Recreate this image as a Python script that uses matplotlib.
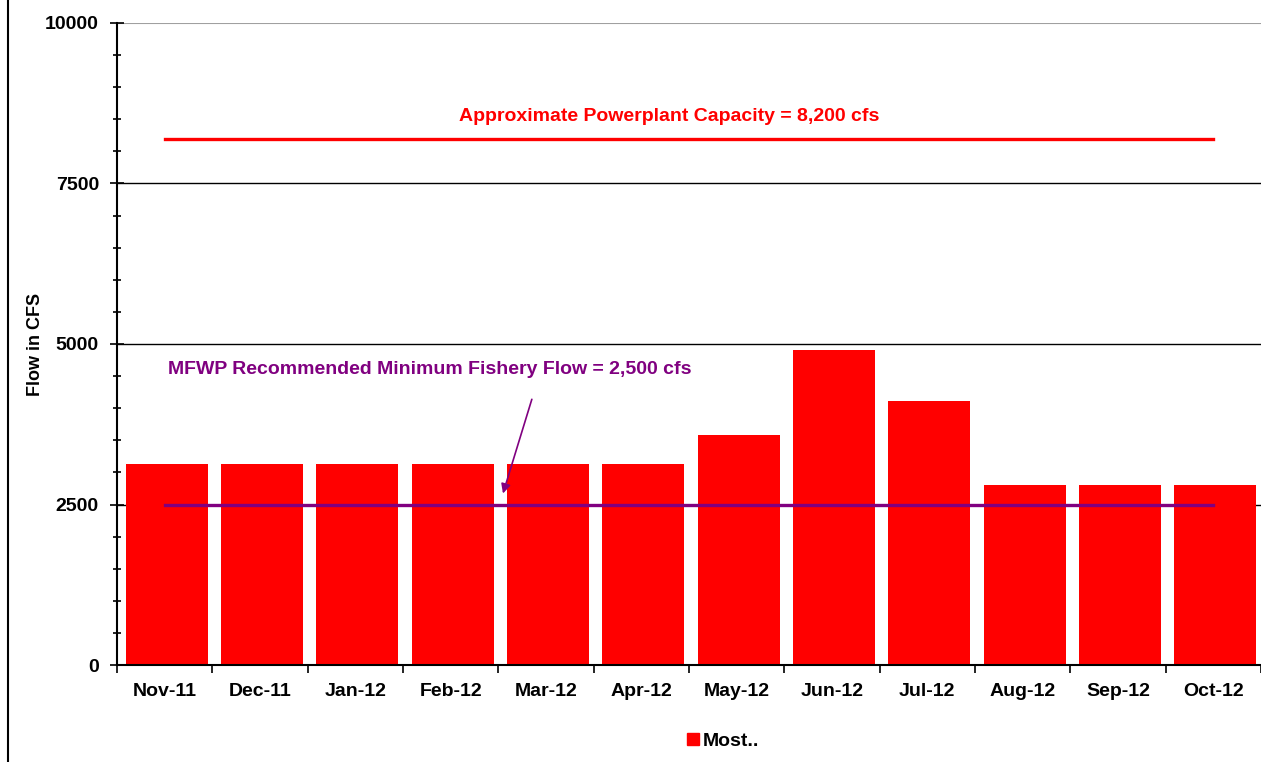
import matplotlib.pyplot as plt
from matplotlib.ticker import MultipleLocator
from matplotlib.lines import Line2D
import numpy as np

plt.rcParams['font.family'] = ['Liberation Sans', 'DejaVu Sans']
plt.rcParams['font.weight'] = 'bold'

months = ['Nov-11', 'Dec-11', 'Jan-12', 'Feb-12', 'Mar-12', 'Apr-12',
          'May-12', 'Jun-12', 'Jul-12', 'Aug-12', 'Sep-12', 'Oct-12']
flow = [3130, 3130, 3130, 3130, 3130, 3130, 3580, 4900, 4110, 2800, 2800, 2800]
capacity = 8200
min_flow = 2500

fig = plt.figure(figsize=(12.61, 7.62), dpi=100)
ax = fig.add_axes([117/1261, 1 - 665/762, 1144/1261, 642/762])

x = np.arange(len(months))
ax.bar(x + 0.02, flow, width=0.86, color='#ff0000', label='Most..', zorder=2)

# reference lines
ax.plot([0, 11], [capacity, capacity], color='#ff0000', lw=2.4, zorder=3)
ax.plot([0, 11], [min_flow, min_flow], color='#800080', lw=2.4, zorder=3)

ax.text(5.29, 8550, 'Approximate Powerplant Capacity = 8,200 cfs', color='#ff0000',
        fontsize=14, ha='center', va='center')
ax.text(0.04, 4610, 'MFWP Recommended Minimum Fishery Flow = 2,500 cfs', color='#800080',
        fontsize=14, ha='left', va='center')
ax.annotate('', xy=(3.54, 2630), xytext=(3.86, 4180),
            arrowprops=dict(arrowstyle='-|>', color='#800080', lw=1.2,
                            mutation_scale=14), zorder=4)

ax.set_xlim(-0.5, 11.5)
ax.set_ylim(0, 10000)
ax.set_yticks([0, 2500, 5000, 7500, 10000])
ax.yaxis.set_minor_locator(MultipleLocator(500))
ax.set_xticks(np.arange(-0.5, 12, 1))
ax.set_xticklabels([])
ax.set_xticks(x, minor=True)
ax.set_xticklabels(months, minor=True)
ax.tick_params(axis='x', which='minor', length=0, pad=13, labelsize=14)
ax.tick_params(axis='x', which='major', length=6, direction='out', width=1.2)
ax.tick_params(axis='y', which='major', length=10, direction='inout', width=1.2,
               labelsize=14, pad=8)
ax.tick_params(axis='y', which='minor', length=6, direction='inout', width=1.2)

for yv in [2500, 5000, 7500]:
    ax.axhline(yv, color='black', lw=1, zorder=1)
ax.axhline(10000, color='#a0a0a0', lw=1.5, zorder=1)

for s in ['top', 'right']:
    ax.spines[s].set_visible(False)
ax.spines['left'].set_linewidth(1.5)
ax.spines['bottom'].set_linewidth(1.5)

ax.set_ylabel('Flow in CFS', fontsize=13, fontweight='bold')
ax.yaxis.set_label_coords(-0.064, 0.5)

fig.legend(handles=[Line2D([], [], marker='s', ls='', color='#ff0000', markersize=9)],
           labels=['Most..'], loc='center', bbox_to_anchor=(722/1261, 1 - 741/762),
           frameon=False, fontsize=14, handlelength=0.8, handletextpad=0.1)

# outer frame edge on the left
fig.add_artist(Line2D([8/1261, 8/1261], [0, 1], color='black', lw=1.5))

fig.savefig('out.png', dpi=100)
